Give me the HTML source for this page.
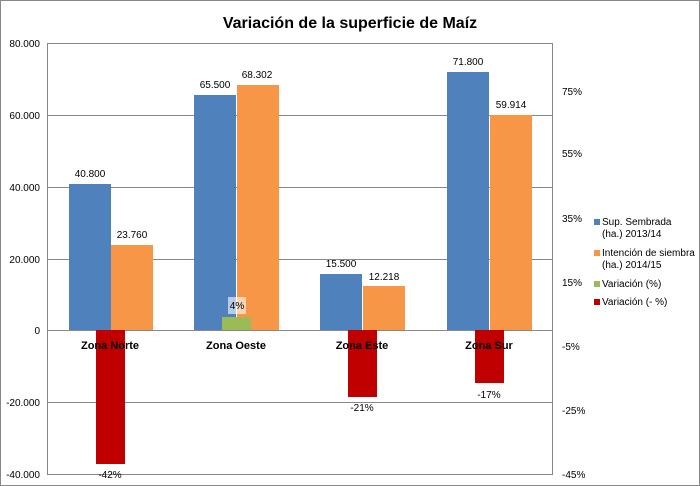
<!DOCTYPE html>
<html><head><meta charset="utf-8"><style>
body{margin:0;background:#fff}
svg{display:block;font-family:"Liberation Sans",sans-serif}
</style></head><body>
<svg width="700" height="486" viewBox="0 0 700 486">
<rect x="0.5" y="0.5" width="699" height="485" fill="#fff" stroke="#888"/>
<text x="350" y="28" text-anchor="middle" font-size="16" font-weight="bold" fill="#000">Variación de la superficie de Maíz</text>
<rect x="47.5" y="43.5" width="505" height="431" fill="#fff" stroke="#888"/>
<g stroke="#888" stroke-width="1">
<line x1="47" y1="115.5" x2="552" y2="115.5"/>
<line x1="47" y1="187.5" x2="552" y2="187.5"/>
<line x1="47" y1="259.5" x2="552" y2="259.5"/>
<line x1="47" y1="330.5" x2="552" y2="330.5"/>
<line x1="47" y1="402.5" x2="552" y2="402.5"/>
</g>
<g font-size="10" fill="#000" text-anchor="end">
<text x="40" y="47">80.000</text><text x="40" y="119">60.000</text><text x="40" y="191">40.000</text>
<text x="40" y="263">20.000</text><text x="40" y="334">0</text><text x="40" y="406">-20.000</text><text x="40" y="478">-40.000</text>
</g>
<g font-size="10" fill="#000">
<text x="562" y="95">75%</text><text x="562" y="157">55%</text><text x="562" y="222">35%</text>
<text x="562" y="286">15%</text><text x="562" y="350">-5%</text><text x="562" y="414">-25%</text><text x="562" y="478">-45%</text>
</g>
<g fill="#4F81BD">
<rect x="69" y="184" width="42" height="146"/>
<rect x="194" y="95" width="42" height="235"/>
<rect x="320" y="274" width="42" height="56"/>
<rect x="447" y="72" width="42" height="258"/>
</g>
<g fill="#F79646">
<rect x="111" y="245" width="42" height="85"/>
<rect x="237" y="85" width="42" height="245"/>
<rect x="363" y="286" width="42" height="44"/>
<rect x="490" y="115" width="42" height="215"/>
</g>
<rect x="222" y="317" width="29" height="13" fill="#9BBB59"/>
<g fill="#C00000">
<rect x="96" y="330" width="29" height="134"/>
<rect x="348" y="330" width="29" height="67"/>
<rect x="475" y="330" width="29" height="53"/>
</g>
<rect x="228" y="297" width="18" height="17" fill="#fff" opacity="0.6"/>
<g font-size="10" fill="#000" text-anchor="middle">
<text x="90" y="177">40.800</text><text x="132" y="238">23.760</text>
<text x="215" y="88">65.500</text><text x="257" y="78">68.302</text>
<text x="341" y="267">15.500</text><text x="384" y="280">12.218</text>
<text x="468" y="65">71.800</text><text x="511" y="108">59.914</text>
<text x="237" y="309">4%</text>
<text x="110" y="478">-42%</text><text x="362" y="411">-21%</text><text x="489" y="398">-17%</text>
</g>
<g font-size="11" font-weight="bold" fill="#000" text-anchor="middle">
<text x="110" y="349">Zona Norte</text><text x="236" y="349">Zona Oeste</text>
<text x="362" y="349">Zona Este</text><text x="489" y="349">Zona Sur</text>
</g>
<g font-size="10" fill="#000">
<rect x="594" y="219" width="6" height="6" fill="#4F81BD"/><text x="602" y="225">Sup. Sembrada</text><text x="602" y="237">(ha.) 2013/14</text>
<rect x="594" y="250" width="6" height="6" fill="#F79646"/><text x="602" y="256">Intención de siembra</text><text x="602" y="268">(ha.) 2014/15</text>
<rect x="594" y="281" width="6" height="6" fill="#9BBB59"/><text x="602" y="287">Variación (%)</text>
<rect x="594" y="299" width="6" height="6" fill="#C00000"/><text x="602" y="305">Variación  (- %)</text>
</g>
</svg>
</body></html>
